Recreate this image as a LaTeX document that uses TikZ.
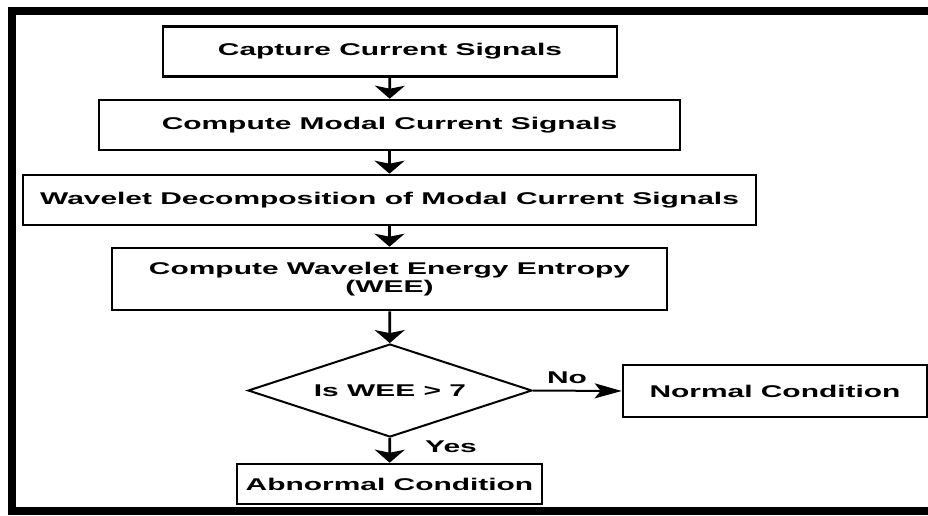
\documentclass[tikz,border=0pt]{standalone}
\usepackage{fontspec}
\setmainfont{Liberation Sans}[FakeStretch=1.76]
\usepackage{tikz}
\usetikzlibrary{shapes.geometric,arrows.meta,positioning}

\begin{document}
\begin{tikzpicture}[x=1pt, y=-1pt,
    procbox/.style={rectangle, draw=black, line width=2.6pt, fill=white,
        minimum height=50pt, inner sep=2pt, align=center,
        font=\fontsize{17}{18}\selectfont\bfseries},
    decision/.style={diamond, aspect=3.05, draw=black, line width=2pt, fill=white,
        minimum width=284pt, minimum height=93pt, inner sep=0pt,
        font=\fontsize{17}{18}\selectfont\bfseries},
    varr/.style={-{Stealth[length=13pt, width=30pt, inset=3pt]}, line width=2.8pt},
    harr/.style={-{Stealth[length=27pt, width=15pt, inset=6pt]}, line width=2pt},
    lbl/.style={font=\fontsize{17}{18}\selectfont\bfseries, inner sep=0pt}
]
    \useasboundingbox (0,0) rectangle (928,515);
    % outer frame, right side runs off the page
    \draw[line width=8pt] (960,11) -- (11.5,11) -- (11.5,511) -- (960,511);

    \node[procbox, minimum width=454pt] (capture) at (390,51.5) {Capture Current Signals};
    \node[procbox, minimum width=581pt] (modal) at (389.5,125) {Compute Modal Current Signals};
    \node[procbox, minimum width=733pt] (wavelet) at (389.5,200) {Wavelet Decomposition of Modal Current Signals};
    \node[procbox, minimum width=555pt, minimum height=62pt] (wee) at (389.5,279) {Compute Wavelet Energy Entropy\\(WEE)};
    \node[decision] (check) at (390,390.5) {Is WEE > 7};
    \node[procbox, minimum width=304pt, minimum height=52pt] (normal) at (775,391) {Normal Condition};
    \node[procbox, minimum width=305pt, minimum height=40pt] (abnormal) at (389.5,484) {Abnormal Condition};

    \draw[varr] (capture) -- (modal);
    \draw[varr] (modal) -- (wavelet);
    \draw[varr] (wavelet) -- (wee);
    \draw[varr] (wee) -- (check);
    \draw[varr] (check) -- (abnormal);
    \draw[harr] (check.east) -- (normal.west);

    \node[lbl] (nolbl) at (567,378) {No};
    \node[lbl] (yeslbl) at (451,447) {Yes};
\end{tikzpicture}
\end{document}
